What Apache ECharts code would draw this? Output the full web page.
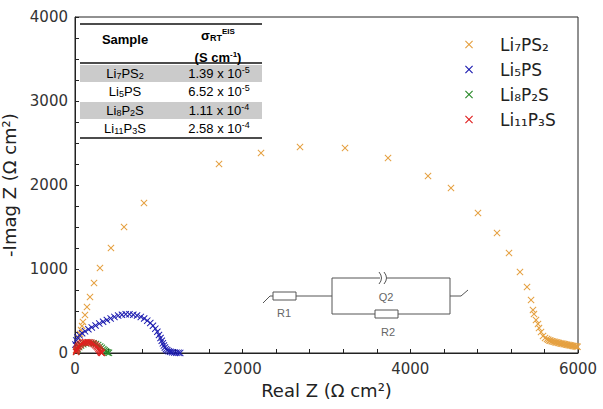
<!DOCTYPE html>
<html>
<head>
<meta charset="utf-8">
<title>Nyquist</title>
<script src="https://cdn.jsdelivr.net/npm/echarts@6/dist/echarts.min.js"></script>
<style>
	html, body { margin: 0; padding: 0; background: #fff; }
	#container { width: 603px; height: 409px; }
</style>
</head>
<body>
<div id="container"></div>
<script>
'use strict';

var seriesNames = ['Li₇PS₂', 'Li₅PS', 'Li₈P₂S', 'Li₁₁P₃S'];
var seriesColors = ['#e5a040', '#1c1cb0', '#2a8a2a', '#e02020'];

// Li7PS2 [Real Z, -Imag Z]
var li7ps2 = [
	[12, 36], [24, 83], [36, 131], [48, 179], [60, 226], [72, 274], [84, 321], [95, 369],
	[119, 452], [143, 548], [179, 667], [227, 833], [298, 1012], [429, 1250], [585, 1500],
	[823, 1786], [1718, 2250], [2219, 2381], [2684, 2452], [3221, 2440], [3734, 2321],
	[4211, 2107], [4485, 1964], [4807, 1667], [5034, 1429], [5177, 1190], [5308, 964],
	[5392, 786], [5440, 631], [5463, 512], [5475, 464], [5499, 393], [5523, 345],
	[5535, 298], [5559, 250], [5583, 202], [5607, 179], [5630, 167], [5645, 158],
	[5660, 150], [5672, 146], [5688, 140], [5702, 136], [5718, 133], [5731, 128],
	[5745, 126], [5760, 121], [5772, 119], [5788, 115], [5801, 112], [5815, 110],
	[5830, 106], [5843, 104], [5858, 100], [5871, 98], [5886, 95], [5900, 92],
	[5913, 90], [5928, 87], [5941, 84], [5955, 82], [5968, 79], [5982, 76], [5995, 73]
];

// Li5PS
var li5ps = [
	[5, 100], [15, 150], [30, 185], [55, 210], [85, 235], [120, 258], [160, 282], [200, 305],
	[245, 328], [290, 350], [335, 372], [380, 392], [425, 412], [470, 430], [515, 445],
	[560, 456], [605, 462], [650, 462], [695, 456], [740, 446], [785, 430], [825, 410],
	[862, 385], [898, 357], [930, 325], [958, 290], [982, 253], [1002, 215], [1020, 178],
	[1035, 145], [1048, 115], [1060, 88], [1072, 65], [1085, 46], [1100, 32], [1118, 22],
	[1138, 14], [1160, 9], [1185, 5], [1210, 3], [1235, 2], [1255, 1]
];

// Li8P2S
var li8p2s = [
	[20, 18], [32, 45], [50, 70], [72, 90], [98, 105], [128, 116], [160, 121], [192, 121],
	[222, 116], [250, 107], [276, 94], [300, 78], [320, 62], [338, 46], [352, 32],
	[365, 20], [378, 11], [392, 5], [405, 2]
];

// Li11P3S
var li11p3s = [
	[12, 12], [16, 28], [20, 42], [26, 56], [34, 70], [44, 83], [56, 95], [70, 106],
	[86, 115], [104, 122], [122, 127], [140, 129], [158, 129], [176, 126], [194, 121],
	[211, 113], [227, 104], [242, 93], [256, 81], [268, 68], [279, 55], [288, 42],
	[296, 30], [303, 19], [309, 10], [315, 4], [322, 1]
];

// 表格
var tableSamples = ['{t|Li}{s|7}{t|PS}{s|2}', '{t|Li}{s|5}{t|PS}', '{t|Li}{s|8}{t|P}{s|2}{t|S}', '{t|Li}{s|11}{t|P}{s|3}{t|S}'];
var tableSigma = ['{t|1.39 x 10}{p|-5}', '{t|6.52 x 10}{p|-5}', '{t|1.11 x 10}{p|-4}', '{t|2.58 x 10}{p|-4}'];

var xTicks = { min: 0, max: 6000, interval: 2000 };
var yTicks = { min: 0, max: 4000, interval: 1000 };

var crossPath = 'path://M0,1L1,0L5,4L9,0L10,1L6,5L10,9L9,10L5,6L1,10L0,9L4,5Z';

var dom = document.getElementById('container');
var myChart = echarts.init(dom, null, { renderer: 'svg' });

var richText = {
	t: { fontFamily: 'Liberation Sans', fontSize: 13, color: '#333' },
	s: { fontFamily: 'Liberation Sans', fontSize: 9, color: '#333', verticalAlign: 'bottom', padding: [6, 0, 0, 0] },
	p: { fontFamily: 'Liberation Sans', fontSize: 9, color: '#333', verticalAlign: 'top', padding: [0, 0, 6, 0] },
	b: { fontFamily: 'Liberation Sans', fontSize: 13, fontWeight: 'bold', color: '#111' },
	bs: { fontFamily: 'Liberation Sans', fontSize: 9, fontWeight: 'bold', color: '#111', verticalAlign: 'bottom', padding: [6, 0, 0, 0] },
	bp: { fontFamily: 'Liberation Sans', fontSize: 8, fontWeight: 'bold', color: '#111', verticalAlign: 'top', padding: [0, 0, 6, 0] }
};

function tableText(x, y, text) {
	return {
		type: 'text',
		x: x,
		y: y,
		style: {
			text: text,
			rich: richText,
			align: 'center',
			verticalAlign: 'middle'
		},
		z: 10
	};
}

function line(x1, y1, x2, y2, w, c) {
	return {
		type: 'line',
		shape: { x1: x1, y1: y1, x2: x2, y2: y2 },
		style: { stroke: c || '#555', lineWidth: w || 1 },
		z: 10
	};
}

var graphics = [
	// 表格
	{ type: 'rect', shape: { x: 80, y: 65, width: 182, height: 17 }, style: { fill: '#cbcbcb' }, z: 9 },
	{ type: 'rect', shape: { x: 80, y: 102, width: 182, height: 17 }, style: { fill: '#cbcbcb' }, z: 9 },
	line(80, 24, 262, 24, 1.5, '#111'),
	line(80, 63, 262, 63, 1.5, '#111'),
	line(80, 138, 262, 138, 1.5, '#111'),
	tableText(125, 39, '{b|Sample}'),
	tableText(218, 35, '{b|σ}{bs|RT}{bp|EIS}'),
	tableText(218, 57, '{b|(S cm}{bp|-1}{b|)}'),
	// 等效电路
	line(263, 303, 270, 296),
	line(270, 296, 273, 296),
	{ type: 'rect', shape: { x: 273, y: 292, width: 23, height: 8 }, style: { fill: '#fff', stroke: '#555', lineWidth: 1 }, z: 11 },
	line(296, 296, 332, 296),
	line(332, 278, 332, 314),
	line(450, 278, 450, 314),
	line(332, 278, 380, 278),
	line(387, 278, 450, 278),
	{ type: 'bezierCurve', shape: { x1: 379, y1: 272, x2: 379, y2: 284, cpx1: 384, cpy1: 278 }, style: { stroke: '#555', fill: null, lineWidth: 1 }, z: 10 },
	{ type: 'bezierCurve', shape: { x1: 384, y1: 272, x2: 384, y2: 284, cpx1: 389, cpy1: 278 }, style: { stroke: '#555', fill: null, lineWidth: 1 }, z: 10 },
	line(332, 314, 450, 314),
	{ type: 'rect', shape: { x: 375, y: 310, width: 23, height: 8 }, style: { fill: '#fff', stroke: '#555', lineWidth: 1 }, z: 11 },
	line(450, 296, 461, 296),
	line(461, 296, 468, 290),
	{ type: 'text', x: 284, y: 313, style: { text: 'R1', fontFamily: 'Liberation Sans', fontSize: 11, fill: '#666', align: 'center', verticalAlign: 'middle' }, z: 10 },
	{ type: 'text', x: 386, y: 297, style: { text: 'Q2', fontFamily: 'Liberation Sans', fontSize: 11, fill: '#666', align: 'center', verticalAlign: 'middle' }, z: 10 },
	{ type: 'text', x: 388, y: 332, style: { text: 'R2', fontFamily: 'Liberation Sans', fontSize: 11, fill: '#666', align: 'center', verticalAlign: 'middle' }, z: 10 }
];

var rowY = [73, 91, 110, 128];
for (var i = 0; i < tableSamples.length; i++) {
	graphics.push(tableText(125, rowY[i], tableSamples[i]));
	graphics.push(tableText(219, rowY[i], tableSigma[i]));
}

var dataSets = [li7ps2, li5ps, li8p2s, li11p3s];
var series = [];
for (var k = 0; k < dataSets.length; k++) {
	series.push({
		name: seriesNames[k],
		type: 'scatter',
		data: dataSets[k],
		symbol: crossPath,
		symbolSize: 7,
		itemStyle: { color: seriesColors[k], opacity: 1 },
		emphasis: { disabled: true },
		animation: false,
		z: 2 + k
	});
}

var option = {
	animation: false,
	backgroundColor: '#fff',
	grid: {
		left: 75,
		right: 25,
		top: 17,
		bottom: 56,
		outerBoundsMode: 'none',
		containLabel: false,
		show: true,
		borderColor: '#222',
		borderWidth: 1
	},
	legend: {
		orient: 'vertical',
		left: 460,
		top: 31,
		itemWidth: 8,
		itemHeight: 8,
		itemGap: 8,
		icon: crossPath,
		data: seriesNames,
		textStyle: {
			fontFamily: 'DejaVu Sans',
			fontSize: 17,
			color: '#222',
			padding: [0, 0, 0, 22]
		}
	},
	xAxis: {
		type: 'value',
		min: xTicks.min,
		max: xTicks.max,
		interval: xTicks.interval,
		name: 'Real Z (Ω cm²)',
		nameLocation: 'middle',
		nameGap: 28,
		nameTextStyle: { fontFamily: 'DejaVu Sans', fontSize: 18, color: '#222' },
		axisLine: { show: true, lineStyle: { color: '#222', width: 1 } },
		axisTick: { show: true, inside: true, length: 4, lineStyle: { color: '#222' } },
		minorTick: { show: true, splitNumber: 5, length: 4, lineStyle: { color: '#222' } },
		axisLabel: {
			fontFamily: 'DejaVu Sans', fontSize: 15, color: '#333', margin: 8,
			formatter: function(v) { return String(v); }
		},
		splitLine: { show: false }
	},
	yAxis: {
		type: 'value',
		min: yTicks.min,
		max: yTicks.max,
		interval: yTicks.interval,
		name: '-Imag Z (Ω cm²)',
		nameLocation: 'middle',
		nameGap: 47,
		nameTextStyle: { fontFamily: 'DejaVu Sans', fontSize: 18, color: '#222' },
		axisLine: { show: true, lineStyle: { color: '#222', width: 1 } },
		axisTick: { show: true, inside: true, length: 4, lineStyle: { color: '#222' } },
		minorTick: { show: true, splitNumber: 4, length: 4, lineStyle: { color: '#222' } },
		axisLabel: {
			fontFamily: 'DejaVu Sans', fontSize: 15, color: '#333', margin: 7,
			formatter: function(v) { return String(v); }
		},
		splitLine: { show: false }
	},
	graphic: graphics,
	series: series
};

myChart.setOption(option);
</script>
</body>
</html>
